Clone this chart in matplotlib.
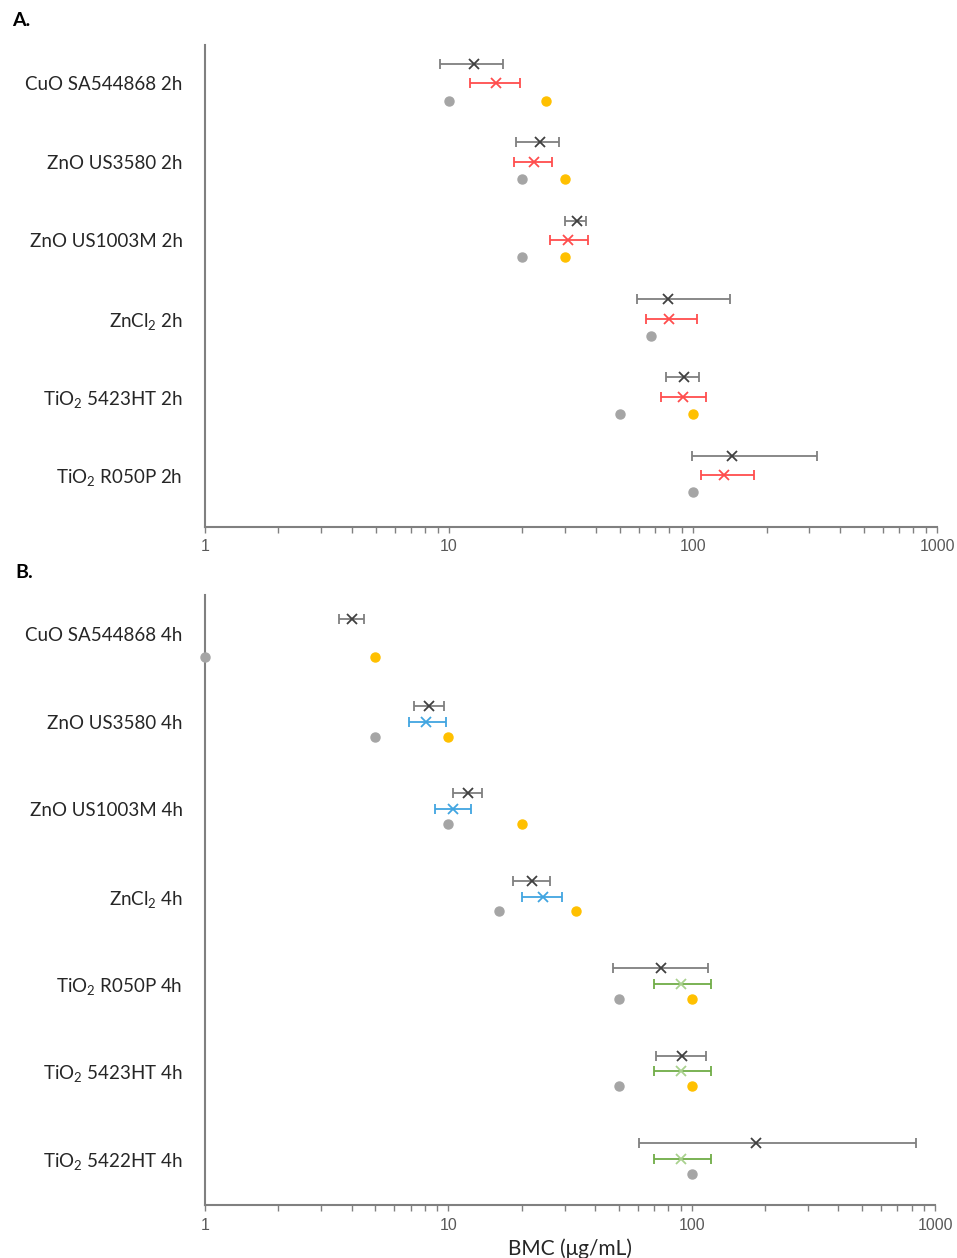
import numpy as np
import matplotlib.pyplot as plt
from matplotlib.ticker import FixedLocator, LogLocator, NullFormatter

plt.rcParams['font.family'] = ['Lato', 'DejaVu Sans']
plt.rcParams['mathtext.fontset'] = 'custom'
plt.rcParams['mathtext.rm'] = 'Lato'
plt.rcParams['mathtext.default'] = 'rm'

# Panel A: 2 h exposures
labels_a = ['CuO SA544868 2h', 'ZnO US3580 2h', 'ZnO US1003M 2h',
            'ZnCl$_2$ 2h', 'TiO$_2$ 5423HT 2h', 'TiO$_2$ R050P 2h']
black_a = [12.7, 23.6, 33.6, 78.8, 91.6, 145]
black_lo_a = [9.2, 18.9, 30.0, 59.1, 77.3, 99]
black_hi_a = [16.6, 28.3, 36.4, 141.7, 106.2, 321]
mid_a = [15.6, 22.2, 30.8, 80.0, 90.8, 133.8]
mid_lo_a = [12.2, 18.4, 25.9, 64.3, 74.2, 108]
mid_hi_a = [19.5, 26.4, 37.2, 103.7, 113.2, 177.4]
gray_a = [10, 20, 20, 67.3, 50, 100]
yellow_a = [25, 30, 30, None, 100, None]

# Panel B: 4 h exposures
labels_b = ['CuO SA544868 4h', 'ZnO US3580 4h', 'ZnO US1003M 4h', 'ZnCl$_2$ 4h',
            'TiO$_2$ R050P 4h', 'TiO$_2$ 5423HT 4h', 'TiO$_2$ 5422HT 4h']
black_b = [4.0, 8.35, 12.0, 22.0, 74.9, 91.0, 183]
black_lo_b = [3.54, 7.23, 10.4, 18.5, 47.5, 71.5, 60.5]
black_hi_b = [4.5, 9.58, 13.7, 26.1, 116.5, 114.3, 832]
mid_b = [None, 8.09, 10.45, 24.4, 90.1, 90.1, 90.1]
mid_lo_b = [None, 6.87, 8.79, 20.1, 70.1, 70.1, 70.1]
mid_hi_b = [None, 9.76, 12.4, 29.4, 120.4, 120.4, 120.4]
gray_b = [1, 5, 10, 16.2, 50, 50, 100]
yellow_b = [5, 10, 20, 33.3, 100, 100, None]
mid_colors_b = ['#41a5e1'] * 4 + ['#70ad47'] * 3
mid_marker_b = ['#41a5e1'] * 4 + ['#a9d18e'] * 3

TEXT = '#262626'
AXIS = '#808080'


def errpoint(ax, x, lo, hi, y, line_color, marker_color):
    ax.errorbar([x], [y], xerr=[[x - lo], [hi - x]], fmt='x', color=line_color,
                mec=marker_color, ms=7, mew=1.3, elinewidth=1.3,
                capsize=3.5, capthick=1.3)


def panel(ax, labels, black, black_lo, black_hi, mid, mid_lo, mid_hi,
          gray, yellow, mid_colors, mid_markers, offs, ylim):
    rows = np.arange(len(labels))
    for i in rows:
        errpoint(ax, black[i], black_lo[i], black_hi[i], i + offs[0], '#7f7f7f', '#404040')
        if mid[i] is not None:
            errpoint(ax, mid[i], mid_lo[i], mid_hi[i], i, mid_colors[i], mid_markers[i])
            dot_y = i + offs[1]
        else:
            # no middle series: the dots sit a bit lower in this row
            dot_y = i + offs[1] * 1.5
        ax.plot([gray[i]], [dot_y], 'o', color='#a5a5a5', ms=6.5, clip_on=False, zorder=5)
        if yellow[i] is not None:
            ax.plot([yellow[i]], [dot_y], 'o', color='#ffc000', ms=6.5, zorder=5)
    ax.set_xscale('log')
    ax.set_xlim(1, 1000)
    ax.set_ylim(*ylim)
    ax.set_yticks(rows)
    ax.set_yticklabels(labels, fontsize=13.5, color=TEXT)
    ax.tick_params(axis='y', length=0, pad=16)
    ax.xaxis.set_major_locator(FixedLocator([1, 10, 100, 1000]))
    ax.set_xticklabels(['1', '10', '100', '1000'], family='Liberation Sans')
    ax.xaxis.set_minor_locator(LogLocator(base=10, subs=np.arange(2, 10)))
    ax.xaxis.set_minor_formatter(NullFormatter())
    ax.tick_params(axis='x', which='both', direction='out', length=4, width=1,
                   color=AXIS, labelsize=11.5, labelcolor='#595959', pad=5)
    for s in ['top', 'right']:
        ax.spines[s].set_visible(False)
    for s in ['left', 'bottom']:
        ax.spines[s].set_color(AXIS)
        ax.spines[s].set_linewidth(1.5)


fig = plt.figure(figsize=(9.57, 12.58), dpi=100)
ax_a = fig.add_axes([0.2142, 0.5811, 0.765, 0.3831])
ax_b = fig.add_axes([0.2142, 0.0421, 0.763, 0.4849])

panel(ax_a, labels_a, black_a, black_lo_a, black_hi_a, mid_a, mid_lo_a, mid_hi_a,
      gray_a, yellow_a, ['#ff4d4d'] * 6, ['#ff4d4d'] * 6, (-0.25, 0.22), (5.66, -0.49))
panel(ax_b, labels_b, black_b, black_lo_b, black_hi_b, mid_b, mid_lo_b, mid_hi_b,
      gray_b, yellow_b, mid_colors_b, mid_marker_b, (-0.18, 0.17), (6.53, -0.45))

ax_b.set_xlabel('BMC (\u03bcg/mL)', fontsize=15, color=TEXT, labelpad=4)

fig.text(0.013, 0.984, 'A.', fontsize=14, fontweight='bold', va='center')
fig.text(0.016, 0.545, 'B.', fontsize=14, fontweight='bold', va='center')

fig.savefig('out.png', dpi=100)
